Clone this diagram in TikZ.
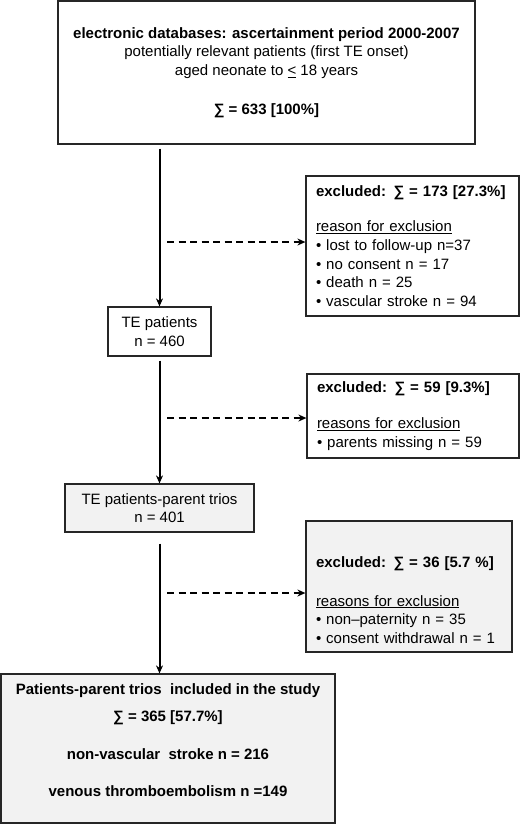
\documentclass[tikz,border=0pt]{standalone}
\usepackage{fontspec}
\setmainfont{Liberation Sans}
\usetikzlibrary{arrows.meta}

\begin{document}
\begin{tikzpicture}[x=1pt, y=-1pt,
  every node/.style={font=\fontsize{15}{18.7}\selectfont},
  box/.style={draw=black!85, line width=1.2pt, fill=white, inner sep=0pt, align=center},
  greyfill/.style={fill=black!5},
  exclbox/.style={align=left, inner xsep=10pt},
  flow/.style={line width=2pt, -{Stealth[length=8pt,width=7pt]}},
  exclarrow/.style={line width=1.8pt, dash pattern=on 7pt off 4.5pt, -{Stealth[length=8pt,width=7pt]}}]

  \useasboundingbox (0,0) rectangle (520,825);

  % main column
  \node[box, minimum width=417pt, minimum height=143pt] (src) at (266.5,72.5)
    {\textbf{electronic databases: ascertainment period 2000-2007}\\
     potentially relevant patients (first TE onset)\\
     aged neonate to \underline{<} 18 years\\[20pt]
     \textbf{∑ = 633 [100\%]}};
  \node[box, minimum width=103pt, minimum height=49pt] (tepat) at (159.5,331.5)
    {TE patients\\ n = 460};
  \node[box, greyfill, minimum width=189pt, minimum height=48pt] (trios) at (159.5,508)
    {TE patients-parent trios\\ n = 401};
  \node[box, greyfill, minimum width=334pt, minimum height=149pt] (study) at (168,748.5)
    {\textbf{Patients-parent trios\ \ included in the study}\\[8pt]
     \textbf{∑ = 365 [57.7\%]}\\[20pt]
     \textbf{non-vascular\ \ stroke n = 216}\\[18pt]
     \textbf{venous thromboembolism n =149}\rule[-17pt]{0pt}{17pt}};

  % exclusions
  \node[box, exclbox, minimum width=213pt, minimum height=140pt, text width=193pt] (excl1) at (412.5,246)
    {\textbf{excluded: ∑ = 173 [27.3\%]}\\[17pt]
     \underline{reason for exclusion}\\
     • lost to follow-up n=37\\
     • no consent n = 17\\
     • death n = 25\\
     • vascular stroke n = 94};
  \node[box, exclbox, minimum width=212pt, minimum height=84pt, text width=192pt] (excl2) at (413,416)
    {\textbf{excluded: ∑ = 59 [9.3\%]}\\[17pt]
     \underline{reasons for exclusion}\\
     • parents missing n = 59};
  \node[box, exclbox, greyfill, minimum width=206pt, minimum height=131pt, text width=186pt] (excl3) at (409,586.5)
    {\rule{0pt}{38pt}\textbf{excluded: ∑ = 36 [5.7 \%]}\\[20pt]
     \underline{reasons for exclusion}\\
     • non–paternity n = 35\\
     • consent withdrawal n = 1};

  \draw[flow, shorten <=4pt] (src.south -| tepat.north) -- (tepat.north);
  \draw[flow, shorten <=4pt] (tepat.south) -- (trios.north);
  \draw[flow, shorten <=11pt] (trios.south) -- (trios.south |- study.north);

  \coordinate (d1) at (167,242);
  \coordinate (d2) at (167,418);
  \coordinate (d3) at (167,593);
  \draw[exclarrow] (d1) -- (d1 -| excl1.west);
  \draw[exclarrow] (d2) -- (d2 -| excl2.west);
  \draw[exclarrow] (d3) -- (d3 -| excl3.west);
\end{tikzpicture}
\end{document}
